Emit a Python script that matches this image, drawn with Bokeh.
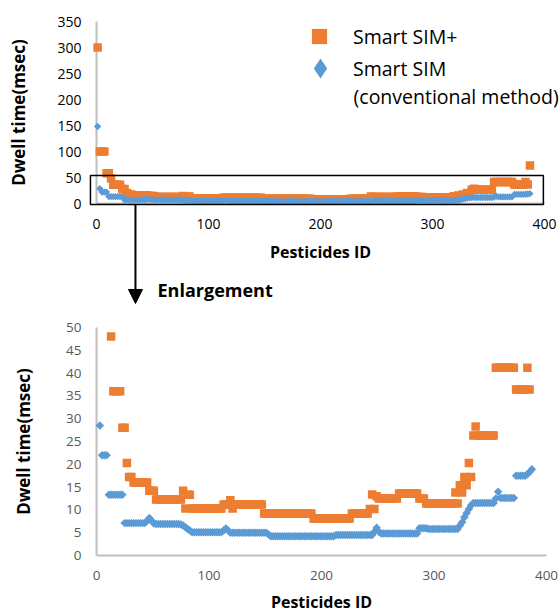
import math
from bokeh.plotting import figure
from bokeh.models import (Range1d, FixedTicker, Legend, LegendItem, BoxAnnotation,
                          Arrow, NormalHead, Label)
from bokeh.layouts import column
from bokeh.embed import file_html
from bokeh.resources import INLINE

# ---------------- data ----------------
pesticide_ids = list(range(1, 388, 2))

smart_sim_plus = [
    300, 100, 100, 100, 58, 58, 48, 36, 36, 36,
    36, 28, 28, 20.3, 17.2, 17.2, 16, 16, 16, 16,
    16, 16, 16, 14.2, 14.2, 14.2, 12.3, 12.3, 12.3, 12.3,
    12.3, 12.3, 12.3, 12.3, 12.3, 12.3, 12.3, 12.3, 14.2, 10.3,
    13.3, 13.3, 10.3, 10.3, 10.3, 10.3, 10.3, 10.3, 10.3, 10.3,
    10.3, 10.3, 10.3, 10.3, 10.3, 10.3, 11.2, 11.2, 11.2, 12.1,
    10.3, 11.2, 11.2, 11.2, 11.2, 11.2, 11.2, 11.2, 11.2, 11.2,
    11.2, 11.2, 11.2, 11.2, 9.2, 9.2, 9.2, 9.2, 9.2, 9.2,
    9.2, 9.2, 9.2, 9.2, 9.2, 9.2, 9.2, 9.2, 9.2, 9.2,
    9.2, 9.2, 9.2, 9.2, 9.2, 9.2, 8.1, 8.1, 8.1, 8.1,
    8.1, 8.1, 8.1, 8.1, 8.1, 8.1, 8.1, 8.1, 8.1, 8.1,
    8.1, 8.1, 8.1, 9.2, 9.2, 9.2, 9.2, 9.2, 9.2, 9.2,
    9.2, 10.2, 13.4, 10.2, 13.0, 12.5, 12.5, 12.5, 12.5, 12.5,
    12.5, 12.5, 12.5, 12.5, 13.6, 13.6, 13.6, 13.6, 13.6, 13.6,
    13.6, 13.6, 13.6, 12.5, 12.5, 12.5, 11.4, 11.4, 11.4, 11.4,
    11.4, 11.4, 11.4, 11.4, 11.4, 11.4, 11.4, 11.4, 11.4, 13.8,
    11.4, 15.4, 13.8, 17.2, 15.4, 20.3, 17.2, 26.3, 28.3, 26.3,
    26.3, 26.3, 26.3, 26.3, 26.3, 26.3, 26.3, 41.2, 41.2, 41.2,
    41.2, 41.2, 41.2, 41.2, 41.2, 41.2, 36.4, 36.4, 36.4, 36.4,
    36.4, 41.2, 36.4, 73,
]

smart_sim = [
    148, 28.5, 22, 22, 22, 13.3, 13.3, 13.3, 13.3, 13.3,
    13.3, 13.3, 7.1, 7.1, 7.1, 7.1, 7.1, 7.1, 7.1, 7.1,
    7.1, 7.1, 7.6, 8.2, 7.6, 7.0, 6.9, 6.9, 6.9, 6.9,
    6.9, 6.9, 6.9, 6.9, 6.9, 6.9, 6.9, 6.8, 6.6, 6.2,
    5.8, 5.5, 5.1, 5.1, 5.1, 5.1, 5.1, 5.1, 5.1, 5.1,
    5.1, 5.1, 5.1, 5.1, 5.1, 5.1, 5.5, 5.9, 5.5, 5.0,
    5.0, 5.0, 5.0, 5.0, 5.0, 5.0, 5.0, 5.0, 5.0, 5.0,
    5.0, 5.0, 5.0, 5.0, 5.0, 5.0, 4.6, 4.2, 4.2, 4.2,
    4.2, 4.2, 4.2, 4.2, 4.2, 4.2, 4.2, 4.2, 4.2, 4.2,
    4.2, 4.2, 4.2, 4.2, 4.2, 4.2, 4.2, 4.2, 4.2, 4.2,
    4.2, 4.2, 4.2, 4.2, 4.2, 4.2, 4.5, 4.5, 4.5, 4.5,
    4.5, 4.5, 4.5, 4.5, 4.5, 4.5, 4.5, 4.5, 4.5, 4.5,
    4.5, 4.5, 4.5, 5.2, 6.1, 5.2, 4.8, 4.8, 4.8, 4.8,
    4.8, 4.8, 4.8, 4.8, 4.8, 4.8, 4.8, 4.8, 4.8, 4.8,
    4.8, 4.8, 4.8, 6.0, 6.0, 6.0, 6.0, 5.8, 5.8, 5.8,
    5.8, 5.8, 5.8, 5.8, 5.8, 5.8, 5.8, 5.8, 5.8, 5.8,
    5.8, 6.6, 7.3, 8.4, 9.3, 10.2, 11.0, 11.5, 11.5, 11.5,
    11.5, 11.5, 11.5, 11.5, 11.5, 11.5, 11.5, 12.5, 14.0, 12.6,
    12.6, 12.6, 12.6, 12.6, 12.6, 12.6, 17.5, 17.5, 17.5, 17.5,
    17.5, 17.8, 18.3, 18.9,
]

x_ticks = [0, 100, 200, 300, 400]
top_y_ticks = [0, 50, 100, 150, 200, 250, 300, 350]
bottom_y_ticks = [0, 5, 10, 15, 20, 25, 30, 35, 40, 45, 50]

series_names = ["Smart SIM+", "Smart SIM", "(conventional method)"]
x_title = "Pesticides ID"
y_title = "Dwell time(msec)"
arrow_text = "Enlargement"

FONT = "Open Sans"
ORANGE = "#ED7D31"
BLUE = "#5B9BD5"
AXIS_GRAY = "#BFBFBF"
W = 560


def make_fig(height, x_px0, x_scale, y_px0, y_scale, y_max, y_ticks, tick_color,
             tick_size, ylab_standoff, xtick_standoff, xlab_standoff):
    # the frame fills the whole canvas; axes are pinned at data zero
    x_range = Range1d(-x_px0 / x_scale, (W - x_px0) / x_scale)
    y_range = Range1d(-(height - y_px0) / y_scale, y_px0 / y_scale)
    p = figure(width=W, height=height, x_range=x_range, y_range=y_range,
               output_backend="svg", toolbar_location=None,
               min_border_left=0, min_border_right=0, min_border_top=0, min_border_bottom=0)
    p.xgrid.visible = False
    p.ygrid.visible = False
    p.outline_line_color = None
    p.xaxis.ticker = FixedTicker(ticks=x_ticks)
    p.yaxis.ticker = FixedTicker(ticks=y_ticks)
    p.xaxis.fixed_location = 0
    p.yaxis.fixed_location = 0
    p.xaxis.bounds = (x_ticks[0], x_ticks[-1])
    p.yaxis.bounds = (0, y_max)
    for ax in (p.xaxis[0], p.yaxis[0]):
        ax.level = "underlay"
        ax.axis_line_color = AXIS_GRAY
        ax.axis_line_width = 2
        ax.major_tick_line_color = None
        ax.minor_tick_line_color = None
        ax.major_tick_out = 0
        ax.major_tick_in = 0
        ax.minor_tick_out = 0
        ax.minor_tick_in = 0
        ax.major_label_text_font = FONT
        ax.major_label_text_font_size = tick_size
        ax.major_label_text_color = tick_color
        ax.axis_label_text_font = FONT
        ax.axis_label_text_font_style = "bold"
        ax.axis_label_text_color = "black"
    p.xaxis.axis_label_text_font_size = "16px"
    p.yaxis.axis_label_text_font_size = "17px"
    p.xaxis.axis_label = x_title
    p.yaxis.axis_label = y_title
    p.xaxis.major_label_standoff = xtick_standoff
    p.xaxis.axis_label_standoff = xlab_standoff
    p.yaxis.major_label_standoff = 15
    p.yaxis.axis_label_standoff = ylab_standoff
    return p


# ---------------- top (full range) ----------------
top = make_fig(310, 96, 1.12, 203, 0.52, 350, top_y_ticks, "black", "14px", 24, 15, 9)
r_plus = top.scatter(pesticide_ids, smart_sim_plus, marker="square", size=8.5,
                     color=ORANGE, line_color=None)
top.scatter(pesticide_ids, smart_sim, marker="square", angle=math.pi / 4, size=5.2,
            color=BLUE, line_color=None)
# hidden twin of the blue series, used only for its diamond legend symbol
r_sim_key = top.scatter(pesticide_ids, smart_sim, marker="diamond", size=8,
                        color=BLUE, line_color=None, visible=False)

legend_common = dict(orientation="vertical", padding=0, margin=0, spacing=0,
                     border_line_color=None, background_fill_color=None,
                     label_text_font=FONT, label_text_font_size="19.5px",
                     label_text_color="black", inactive_fill_alpha=0)
top.add_layout(Legend(items=[LegendItem(label=series_names[0], renderers=[r_plus])],
                      location=(300, 255), glyph_width=38, glyph_height=38,
                      label_standoff=15, **legend_common))
top.add_layout(Legend(items=[LegendItem(label=series_names[1], renderers=[r_sim_key])],
                      location=(295, 217), glyph_width=50, glyph_height=50,
                      label_standoff=8, **legend_common))
top.add_layout(Label(x=229.5, y=205.8, text=series_names[2], text_font=FONT,
                     text_font_size="19.5px", text_baseline="middle", text_align="left",
                     text_color="black"))

top.add_layout(BoxAnnotation(left=-5.4, right=399, bottom=-2, top=54,
                             fill_color=None, fill_alpha=0, line_color="black",
                             line_alpha=1, line_width=1.5))
top.add_layout(Arrow(end=NormalHead(size=14, fill_color="black", line_color="black"),
                     x_start=34.8, y_start=-2, x_end=34.8, y_end=-192.3,
                     line_color="black", line_width=2))
top.add_layout(Label(x=54.5, y=-167.3, text=arrow_text, text_font=FONT, text_font_style="bold",
                     text_font_size="18px", text_baseline="middle", text_align="left",
                     text_color="black"))

# ---------------- bottom (enlargement) ----------------
bottom = make_fig(302, 96, 1.125, 245, 4.56, 50, bottom_y_ticks, "#595959", "13.5px",
                  28, 15, 8)
bottom.scatter(pesticide_ids, smart_sim_plus, marker="square", size=8.5,
               color=ORANGE, line_color=None)
bottom.scatter(pesticide_ids, smart_sim, marker="square", angle=math.pi / 4, size=6,
               color=BLUE, line_color=None)

layout = column(top, bottom, spacing=0)
open("out.html", "w").write(file_html(layout, INLINE))
